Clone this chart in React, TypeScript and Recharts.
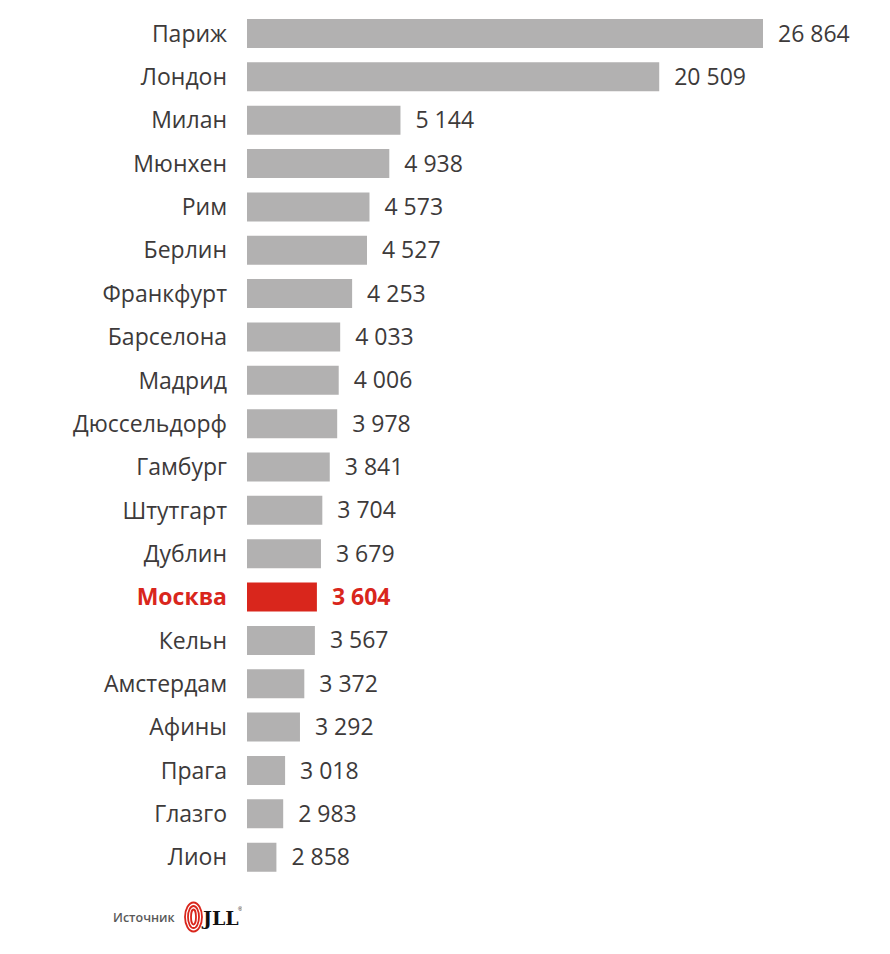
import { BarChart, Bar, XAxis, YAxis, Cell, LabelList } from 'recharts';

// Office rents by city, values as printed on the bars
const cities = [
  'Париж', 'Лондон', 'Милан', 'Мюнхен', 'Рим', 'Берлин', 'Франкфурт', 'Барселона', 'Мадрид', 'Дюссельдорф',
  'Гамбург', 'Штутгарт', 'Дублин', 'Москва', 'Кельн', 'Амстердам', 'Афины', 'Прага', 'Глазго', 'Лион',
];
const values = [
  26864, 20509, 5144, 4938, 4573, 4527, 4253, 4033, 4006, 3978,
  3841, 3704, 3679, 3604, 3567, 3372, 3292, 3018, 2983, 2858,
];
const highlightCity = 'Москва';
const sourceLabel = 'Источник';

const data = cities.map((city, i) => ({ city, value: values[i] }));

const GREY = '#b2b1b1';
const RED = '#d9261c';
const TEXT = '#3d3a3a';
const FONT = '"Open Sans", sans-serif';

// the original axis is broken: long bars (Paris, London) are compressed
const scaleKnots = [2316, 5351, 26864];
const scaleFracs = [0, 0.3192, 1];

function brokenScale() {
  let rng: number[] = [0, 1];
  const toFrac = (v: number) => {
    if (v <= scaleKnots[1]) {
      return ((v - scaleKnots[0]) / (scaleKnots[1] - scaleKnots[0])) * scaleFracs[1];
    }
    return scaleFracs[1] + ((v - scaleKnots[1]) / (scaleKnots[2] - scaleKnots[1])) * (scaleFracs[2] - scaleFracs[1]);
  };
  const scale: any = (v: number) => rng[0] + toFrac(Number(v)) * (rng[1] - rng[0]);
  scale.domain = (d?: number[]) => (d === undefined ? [scaleKnots[0], scaleKnots[2]] : scale);
  scale.range = (r?: number[]) => {
    if (r === undefined) return rng.slice();
    rng = r.slice();
    return scale;
  };
  scale.copy = () => brokenScale().range(rng);
  scale.ticks = () => [];
  scale.nice = () => scale;
  scale.clamp = () => scale;
  scale.invert = (px: number) => {
    const f = (px - rng[0]) / (rng[1] - rng[0]);
    if (f <= scaleFracs[1]) return scaleKnots[0] + (f / scaleFracs[1]) * (scaleKnots[1] - scaleKnots[0]);
    return scaleKnots[1] + ((f - scaleFracs[1]) / (1 - scaleFracs[1])) * (scaleKnots[2] - scaleKnots[1]);
  };
  return scale;
}

const formatNumber = (n: number) => String(n).replace(/\B(?=(\d{3})+(?!\d))/g, ' ');

const CityTick = (props: any) => {
  const { x, y, payload } = props;
  const hot = payload.value === highlightCity;
  return (
    <text
      x={x}
      y={y}
      dy="0.35em"
      textAnchor="end"
      fontFamily={FONT}
      fontSize={23}
      fontWeight={hot ? 700 : 400}
      fill={hot ? RED : TEXT}
    >
      {payload.value}
    </text>
  );
};

const ValueLabel = (props: any) => {
  const { x, y, width, height, value, index } = props;
  const hot = cities[index] === highlightCity;
  return (
    <text
      x={x + width + 15}
      y={y + height / 2}
      dy="0.35em"
      textAnchor="start"
      fontFamily={FONT}
      fontSize={23}
      fontWeight={hot ? 700 : 400}
      fill={hot ? RED : TEXT}
    >
      {formatNumber(value)}
    </text>
  );
};

export default function App() {
  return (
    <div style={{ position: 'relative', width: 874, height: 940, fontFamily: FONT }}>
      <BarChart
        width={874}
        height={872}
        data={data}
        layout="vertical"
        margin={{ top: 4, right: 119, bottom: 1, left: 0 }}
      >
        <XAxis type="number" dataKey="value" hide scale={brokenScale()} domain={[2316, 26864]} />
        <YAxis
          type="category"
          dataKey="city"
          width={239}
          axisLine={false}
          tickLine={false}
          tickMargin={14}
          interval={0}
          tick={<CityTick />}
        />
        <Bar dataKey="value" barSize={29} isAnimationActive={false}>
          {data.map((d) => (
            <Cell key={d.city} fill={d.city === highlightCity ? RED : GREY} />
          ))}
          <LabelList dataKey="value" content={<ValueLabel />} />
        </Bar>
      </BarChart>
      <div style={{ position: 'absolute', left: 105, top: 893, display: 'flex', alignItems: 'center' }}>
        <span style={{ fontSize: 12.5, fontWeight: 600, color: '#595959', marginRight: 9 }}>{sourceLabel}</span>
        <svg width={58} height={32} viewBox="0 0 58 32">
          <g fill="none" stroke={RED} strokeWidth={1.8}>
            <ellipse cx={9.5} cy={16} rx={8.5} ry={14.5} />
            <ellipse cx={9.5} cy={16} rx={5.5} ry={11} />
            <ellipse cx={9.5} cy={16} rx={2.5} ry={7.5} />
          </g>
          <text x={19} y={24} fontFamily="'DejaVu Serif', serif" fontWeight={700} fontSize={19} fill="#111">
            JLL
          </text>
          <text x={54} y={10} fontFamily="sans-serif" fontSize={6} fill="#111">
            ®
          </text>
        </svg>
      </div>
    </div>
  );
}
